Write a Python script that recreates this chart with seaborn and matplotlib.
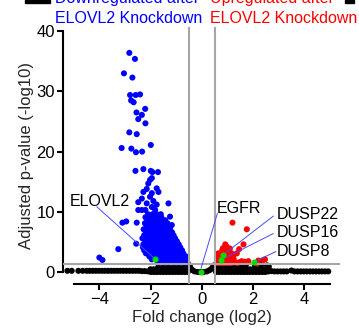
import matplotlib
matplotlib.use("Agg")
import matplotlib.pyplot as plt
import matplotlib.patches as mpatches
import seaborn as sns
import pandas as pd

# ---------------- data: log2 fold change / -log10 adjusted p ----------------
# not significant genes (black)
black_x = [-5.25, -5.08, -4.82, -4.65, -4.49, -4.38, -4.26, -4.14, -4.02, -3.9, -3.78,
           -3.66, -3.54, -3.42, -3.3, -3.18, -3.06, -2.94, -2.82, -2.7, -2.58, -2.46,
           -2.34, -2.22, -2.1, -1.98, -1.86, -1.74, -1.62, -1.5, -1.38, -1.26, -1.14,
           -1.02, -0.9, -0.78, -0.66, -0.55,
           -2.0, -1.88, -1.76, -1.64, -1.52, -1.4, -1.28, -1.16, -1.04, -0.92, -0.8,
           -0.68, -0.57,
           -1.7, -1.5, -1.3, -1.1, -0.9, -0.7, -0.58,
           -0.48, -0.45, -0.42, -0.36, -0.28, -0.16, -0.04, 0.08, 0.2, 0.3, 0.37,
           0.42, 0.45, 0.48,
           0.56, 0.68, 0.8, 0.92, 1.04, 1.16, 1.28, 1.4, 1.52, 1.64, 1.76, 1.88, 2.0,
           2.12, 2.24, 2.36, 2.48, 2.6,
           0.56, 0.68, 0.8, 0.92, 1.04, 1.16, 1.28, 1.4, 1.52, 1.64, 1.76, 1.88, 2.0,
           2.12, 2.24, 2.36, 2.48, 2.6,
           0.58, 0.7, 0.82, 0.94, 1.06, 1.18, 1.3, 1.42, 1.55, 1.66,
           1.72, 2.08, 2.32, 2.55, 2.62,
           2.72, 2.84, 2.96, 3.08, 3.2, 3.32, 3.5, 3.62, 3.74, 3.86, 3.98, 4.1, 4.22,
           4.34, 4.46, 4.58, 4.7, 4.82, 4.94]
black_y = [0.2, 0.2, 0.2, 0.2, 0.2, 0.2, 0.2, 0.2, 0.2, 0.2, 0.2,
           0.2, 0.2, 0.2, 0.2, 0.2, 0.2, 0.2, 0.2, 0.2, 0.2, 0.2,
           0.15, 0.15, 0.1, 0.0, 0.0, 0.0, 0.0, 0.0, 0.0, 0.0, 0.0,
           0.0, 0.0, 0.0, 0.0, 0.0,
           0.45, 0.45, 0.45, 0.45, 0.45, 0.45, 0.45, 0.45, 0.45, 0.45, 0.45,
           0.45, 0.45,
           0.8, 0.8, 0.8, 0.8, 0.8, 0.8, 0.8,
           1.1, 0.8, 0.5, 0.3, 0.1, 0.0, 0.0, 0.0, 0.1, 0.3, 0.5,
           0.7, 0.9, 1.1,
           0.0, 0.0, 0.0, 0.0, 0.0, 0.0, 0.0, 0.0, 0.0, 0.0, 0.0, 0.0, 0.0,
           0.0, 0.0, 0.0, 0.0, 0.1,
           0.45, 0.45, 0.45, 0.45, 0.45, 0.45, 0.45, 0.45, 0.45, 0.45, 0.45, 0.45, 0.45,
           0.45, 0.45, 0.45, 0.45, 0.4,
           0.9, 0.9, 0.9, 0.9, 0.9, 0.9, 0.9, 0.9, 0.9, 0.9,
           1.15, 1.1, 1.15, 1.1, 0.9,
           0.15, 0.1, 0.1, 0.1, 0.1, 0.1, 0.25, 0.1, 0.1, 0.1, 0.1, 0.1, 0.1,
           0.1, 0.1, 0.1, 0.1, 0.1, 0.1]

# downregulated after knockdown (blue)
blue_x = [-2.83, -2.61, -3.04, -2.71, -2.80, -2.58, -2.41, -2.76, -2.66, -2.21, -2.55,
          -2.34, -2.48, -2.20, -2.83, -2.54, -3.13, -2.75, -2.57, -2.33, -1.99, -2.59,
          -2.28, -1.99, -1.93, -1.71,
          -1.95, -2.09, -2.02, -1.76, -1.69, -2.28, -2.15, -1.95, -2.34, -2.02, -1.89,
          -1.76, -1.30, -2.15, -1.95, -2.48, -2.34, -2.20, -1.82, -2.48,
          -1.24, -1.17, -2.54, -3.10, -2.95, -2.56, -3.26, -4.00, -3.88,
          -1.72, -1.6, -1.48, -1.36, -1.24, -1.12, -1.0, -0.9, -0.8, -0.71, -0.62, -0.56,
          -1.95, -1.7, -1.57, -1.44, -1.31, -1.19, -1.07, -0.96, -0.85, -0.75, -0.66, -0.58,
          -2.05, -1.92, -1.78, -1.64, -1.5, -1.37, -1.25, -1.13, -1.01, -0.9, -0.8, -0.7, -0.62,
          -2.18, -2.05, -1.9, -1.76, -1.62, -1.49, -1.36, -1.24, -1.12, -1.0, -0.9, -0.8, -0.72,
          -2.25, -2.1, -1.96, -1.82, -1.68, -1.55, -1.42, -1.3, -1.18, -1.06, -0.95, -0.85, -0.77,
          -2.3, -2.12, -1.98, -1.84, -1.7, -1.56, -1.43, -1.3, -1.18, -1.06, -0.95, -0.84,
          -2.28, -2.1, -1.95, -1.8, -1.66, -1.52, -1.39, -1.26, -1.14, -1.02, -0.9,
          -2.2, -2.05, -1.9, -1.76, -1.62, -1.48, -1.35, -1.22, -1.1, -0.97,
          -2.32, -2.15, -2.0, -1.85, -1.7, -1.56, -1.42, -1.29, -1.16, -1.04,
          -2.25, -2.08, -1.93, -1.78, -1.64, -1.5, -1.36, -1.23, -1.1,
          -2.18, -2.02, -1.87, -1.72, -1.58, -1.44, -1.3, -1.16,
          -2.27, -2.1, -1.95, -1.8, -1.66, -1.52, -1.38, -1.24,
          -2.15, -2.0, -1.86, -1.72, -1.58, -1.45, -1.3,
          -2.22, -2.05, -1.9, -1.75, -1.6, -1.46, -1.34,
          -2.12, -1.97, -1.82, -1.67, -1.52, -1.42,
          -2.2, -2.03, -1.88, -1.73, -1.58,
          -2.1, -1.92, -1.76, -1.6]
blue_y = [36.4, 35.4, 33.0, 32.3, 29.4, 29.4, 29.5, 28.5, 28.2, 27.1, 26.5,
          26.1, 25.4, 24.7, 23.2, 22.9, 20.6, 20.5, 19.9, 20.0, 21.1, 16.8,
          17.1, 16.8, 16.6, 16.6,
          15.6, 14.7, 15.3, 13.9, 13.3, 13.3, 13.8, 13.1, 12.2, 12.5, 11.8,
          11.2, 11.4, 11.4, 10.8, 10.3, 10.3, 10.3, 10.3, 11.6,
          9.2, 7.8, 8.2, 8.2, 8.4, 4.7, 3.8, 2.4, 2.0,
          1.6, 1.6, 1.6, 1.6, 1.6, 1.6, 1.6, 1.6, 1.6, 1.6, 1.6, 1.6,
          2.1, 2.1, 2.1, 2.1, 2.1, 2.1, 2.1, 2.1, 2.1, 2.1, 2.1, 2.1,
          2.6, 2.6, 2.6, 2.6, 2.6, 2.6, 2.6, 2.6, 2.6, 2.6, 2.6, 2.6, 2.6,
          3.1, 3.1, 3.1, 3.1, 3.1, 3.1, 3.1, 3.1, 3.1, 3.1, 3.1, 3.1, 3.1,
          3.6, 3.6, 3.6, 3.6, 3.6, 3.6, 3.6, 3.6, 3.6, 3.6, 3.6, 3.6, 3.6,
          4.1, 4.1, 4.1, 4.1, 4.1, 4.1, 4.1, 4.1, 4.1, 4.1, 4.1, 4.1,
          4.6, 4.6, 4.6, 4.6, 4.6, 4.6, 4.6, 4.6, 4.6, 4.6, 4.6,
          5.1, 5.1, 5.1, 5.1, 5.1, 5.1, 5.1, 5.1, 5.1, 5.1,
          5.6, 5.6, 5.6, 5.6, 5.6, 5.6, 5.6, 5.6, 5.6, 5.6,
          6.1, 6.1, 6.1, 6.1, 6.1, 6.1, 6.1, 6.1, 6.1,
          6.6, 6.6, 6.6, 6.6, 6.6, 6.6, 6.6, 6.6,
          7.1, 7.1, 7.1, 7.1, 7.1, 7.1, 7.1, 7.1,
          7.6, 7.6, 7.6, 7.6, 7.6, 7.6, 7.6,
          8.1, 8.1, 8.1, 8.1, 8.1, 8.1, 8.1,
          8.6, 8.6, 8.6, 8.6, 8.6, 8.6,
          9.1, 9.1, 9.1, 9.1, 9.1,
          9.6, 9.6, 9.6, 9.6]

# upregulated after knockdown (red)
red_x = [1.20, 1.76, 1.63, 1.46, 0.92, 0.98, 0.82, 1.04, 1.17, 0.65, 0.78, 1.23,
         0.59, 0.91, 1.10, 0.65, 1.56, 1.69, 1.82, 2.15, 2.47, 2.21, 1.37, 2.41,
         0.62, 0.72, 0.82, 0.95, 1.05, 1.15, 1.25, 1.38, 1.45,
         0.60, 0.88, 1.00, 1.12, 1.25, 0.95, 1.08, 1.20, 0.68, 0.88, 1.00,
         0.80, 0.92, 1.05, 0.85, 1.10]
red_y = [8.2, 7.1, 4.6, 3.8, 4.6, 4.2, 3.9, 3.4, 3.1, 3.1, 2.8, 2.5,
         2.3, 2.3, 2.0, 1.7, 1.8, 1.7, 1.8, 1.45, 2.1, 1.9, 3.1, 2.0,
         1.5, 1.5, 1.5, 1.5, 1.5, 1.5, 1.6, 1.5, 1.6,
         2.0, 1.9, 2.0, 1.9, 2.1, 2.6, 2.5, 2.5, 3.0, 3.2, 3.0,
         3.6, 3.5, 3.5, 4.0, 3.9]

# highlighted genes (green) and their label anchors
gene_names = ["ELOVL2", "EGFR", "DUSP22", "DUSP16", "DUSP8"]
gene_x = [-1.82, -0.04, 0.84, 0.75, 2.03]
gene_y = [2.15, 0.0, 2.8, 2.0, 1.65]
label_x = [-5.14, 0.59, 2.93, 2.93, 2.93]
label_y = [10.95, 9.74, 8.75, 5.76, 2.66]
leader_x = [-4.10, 0.61, 2.80, 2.80, 2.90]
leader_y = [10.84, 9.74, 9.3, 6.4, 3.4]
leader_end_x = [-1.82, -0.03, 0.91, 0.80, 2.15]
leader_end_y = [2.15, 0.6, 3.1, 2.1, 1.9]

fc_cutoff = 0.5
p_cutoff = 1.3
x_ticks = [-4, -2, 0, 2, 4]
y_ticks = [0, 10, 20, 30, 40]

# ---------------- figure ----------------
sns.set_theme(style="ticks")
plt.rcParams['font.family'] = ['Liberation Sans', 'DejaVu Sans']

W, H = 359, 333
fig = plt.figure(figsize=(W / 100, H / 100), dpi=100)
ax = fig.add_axes([63 / W, 1 - 284.3 / H, (340 - 63) / W, (284.3 - 27) / H])

df = pd.concat([
    pd.DataFrame({"fc": black_x, "p": black_y, "group": "ns"}),
    pd.DataFrame({"fc": blue_x, "p": blue_y, "group": "down"}),
    pd.DataFrame({"fc": red_x, "p": red_y, "group": "up"}),
], ignore_index=True)
palette = {"ns": "#000000", "down": "#0000ff", "up": "#ff0000"}

sns.scatterplot(data=df, x="fc", y="p", hue="group", palette=palette, s=19,
                linewidth=0, legend=False, ax=ax, zorder=2)

# thresholds
line_kw = dict(color="#a6a6a6", lw=1.5, zorder=3)
ax.axhline(p_cutoff, **line_kw)
ax.axvline(-fc_cutoff, **line_kw)
ax.axvline(fc_cutoff, **line_kw)

# gene labels with leader lines
for name, lx, ly, sx, sy, ex, ey in zip(gene_names, label_x, label_y, leader_x,
                                         leader_y, leader_end_x, leader_end_y):
    ax.plot([sx, ex], [sy, ey], color="#4a4aff", lw=0.7, zorder=4)
    ax.text(lx, ly, name, fontsize=11.5, color="black", ha="left", va="baseline",
            zorder=6)

genes = pd.DataFrame({"fc": gene_x, "p": gene_y})
sns.scatterplot(data=genes, x="fc", y="p", color="#00e000", s=19, linewidth=0,
                ax=ax, zorder=5)

ax.set_xlim(-5.42, 5.40)
ax.set_ylim(-2.04, 40.7)
ax.set_xticks(x_ticks)
ax.set_yticks(y_ticks)
for side in ("top", "right"):
    ax.spines[side].set_visible(False)
ax.spines["left"].set_bounds(0, 40)
ax.spines["bottom"].set_bounds(-5, 5)
for side in ("left", "bottom"):
    ax.spines[side].set_linewidth(1.5)
    ax.spines[side].set_color("black")
ax.tick_params(axis="both", length=4.3, width=1.5, color="black", labelsize=12,
               pad=1.5, labelcolor="black")
ax.set_xlabel("Fold change (log2)", fontsize=12, labelpad=2)
ax.set_ylabel("Adjusted p-value (-log10)", fontsize=12, labelpad=2)

# category captions above the plot
fig.text(55 / W, 1 - 3.5 / H, "Downregulated after", color="#0000ff", fontsize=11.5,
         ha="left", va="baseline")
fig.text(55 / W, 1 - 23.3 / H, "ELOVL2 Knockdown", color="#0000ff", fontsize=11.5,
         ha="left", va="baseline")
fig.text(210 / W, 1 - 3.5 / H, "Upregulated after", color="#ff0000", fontsize=11.5,
         ha="left", va="baseline")
fig.text(210 / W, 1 - 23.3 / H, "ELOVL2 Knockdown", color="#ff0000", fontsize=11.5,
         ha="left", va="baseline")
fig.patches.append(mpatches.Rectangle((25 / W, 1 - 2.7 / H), 25 / W, 2.7 / H,
                                      transform=fig.transFigure, color="black"))
fig.patches.append(mpatches.Rectangle((345 / W, 1 - 2.7 / H), 9 / W, 2.7 / H,
                                      transform=fig.transFigure, color="black"))

fig.savefig("out.png", dpi=100)
